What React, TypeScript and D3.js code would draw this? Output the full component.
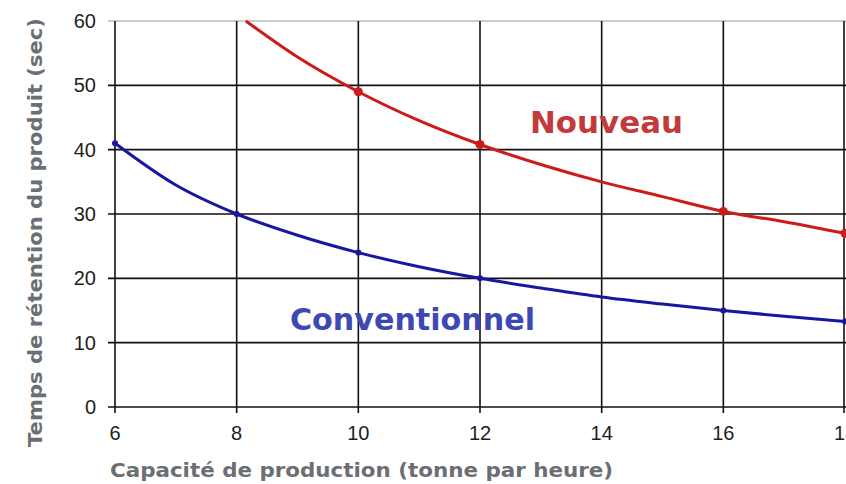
import React from "react";
import * as d3 from "d3";

// capacity (t/h) vs retention time (s)
const nouveauX = [8.15, 9, 10, 11, 12, 13, 14, 15, 16, 17, 18];
const nouveauY = [60, 54.4, 49, 44.5, 40.8, 37.7, 35, 32.7, 30.4, 28.8, 27];
const nouveauMarks = [10, 12, 16, 18];

const conventionnelX = [6, 7, 8, 9, 10, 11, 12, 13, 14, 15, 16, 17, 18];
const conventionnelY = [41, 34.5, 30, 26.7, 24, 21.8, 20, 18.5, 17.1, 16, 15, 14.1, 13.3];
const conventionnelMarks = [6, 8, 10, 12, 16, 18];

const xTicks = [6, 8, 10, 12, 14, 16, 18];
const yTicks = [0, 10, 20, 30, 40, 50, 60];

const W = 846;
const H = 484;
const margin = { top: 21, right: 1, bottom: 77, left: 115 };

export default function App() {
  const x = d3.scaleLinear().domain([6, 18]).range([margin.left, W - margin.right]);
  const y = d3.scaleLinear().domain([0, 60]).range([H - margin.bottom, margin.top]);

  const line = d3
    .line<[number, number]>()
    .x(d => x(d[0]))
    .y(d => y(d[1]))
    .curve(d3.curveMonotoneX);

  const nouveau: [number, number][] = nouveauX.map((v, i) => [v, nouveauY[i]]);
  const conv: [number, number][] = conventionnelX.map((v, i) => [v, conventionnelY[i]]);

  const y0 = y(0);
  const red = "#cc1b1b";
  const blue = "#1717a0";

  return (
    <svg
      width={W}
      height={H}
      style={{ position: "absolute", left: 0, top: 0, background: "#fff" }}
    >
      <defs>
        <clipPath id="plot">
          <rect x={margin.left - 4} y={margin.top - 4} width={W} height={y0 - margin.top + 4} />
        </clipPath>
      </defs>

      {/* grid */}
      {yTicks.map(t => (
        <line
          key={"gy" + t}
          x1={margin.left - 7}
          x2={W}
          y1={y(t)}
          y2={y(t)}
          stroke={t === 60 ? "#999" : "#111"}
          strokeWidth={t === 60 ? 1.2 : 1.6}
        />
      ))}
      {xTicks.map(t => (
        <line
          key={"gx" + t}
          x1={x(t) - (t === 18 ? 1 : 0)}
          x2={x(t) - (t === 18 ? 1 : 0)}
          y1={margin.top}
          y2={y0 + 6}
          stroke="#111"
          strokeWidth={1.6}
        />
      ))}

      {/* tick labels */}
      {yTicks.map(t => (
        <text
          key={"ly" + t}
          x={96}
          y={y(t) + 7}
          textAnchor="end"
          fontFamily="Liberation Sans, Arial, sans-serif"
          fontSize={20}
          fill="#1e1e1e"
        >
          {t}
        </text>
      ))}
      {xTicks.map(t => (
        <text
          key={"lx" + t}
          x={x(t)}
          y={440}
          textAnchor="middle"
          fontFamily="Liberation Sans, Arial, sans-serif"
          fontSize={20}
          fill="#1e1e1e"
        >
          {t}
        </text>
      ))}

      {/* series */}
      <g clipPath="url(#plot)">
        <path d={line(conv) ?? ""} fill="none" stroke={blue} strokeWidth={3} />
        {conventionnelMarks.map(m => (
          <circle key={"cm" + m} cx={x(m)} cy={y(conv.find(d => d[0] === m)![1])} r={3} fill={blue} />
        ))}
        <path d={line(nouveau) ?? ""} fill="none" stroke={red} strokeWidth={3} />
        {nouveauMarks.map(m => (
          <circle key={"nm" + m} cx={x(m)} cy={y(nouveau.find(d => d[0] === m)![1])} r={4.5} fill={red} />
        ))}
      </g>

      {/* series labels */}
      <text
        x={530}
        y={133}
        fontFamily="DejaVu Sans, Verdana, sans-serif"
        fontWeight="bold"
        fontSize={31}
        fill="#c23a3a"
        textLength={153}
        lengthAdjust="spacingAndGlyphs"
      >
        Nouveau
      </text>
      <text
        x={290}
        y={330}
        fontFamily="DejaVu Sans, Verdana, sans-serif"
        fontWeight="bold"
        fontSize={31}
        fill="#3d48b2"
        textLength={245}
        lengthAdjust="spacingAndGlyphs"
      >
        Conventionnel
      </text>

      {/* axis titles */}
      <text
        x={110}
        y={477}
        fontFamily="DejaVu Sans, Verdana, sans-serif"
        fontWeight="bold"
        fontSize={19}
        fill="#6b6e73"
        textLength={503}
        lengthAdjust="spacingAndGlyphs"
      >
        Capacité de production (tonne par heure)
      </text>
      <text
        transform="translate(42,447) rotate(-90)"
        fontFamily="DejaVu Sans, Verdana, sans-serif"
        fontWeight="bold"
        fontSize={19}
        fill="#6b6e73"
        textLength={429}
        lengthAdjust="spacingAndGlyphs"
      >
        Temps de rétention du produit (sec)
      </text>
    </svg>
  );
}
